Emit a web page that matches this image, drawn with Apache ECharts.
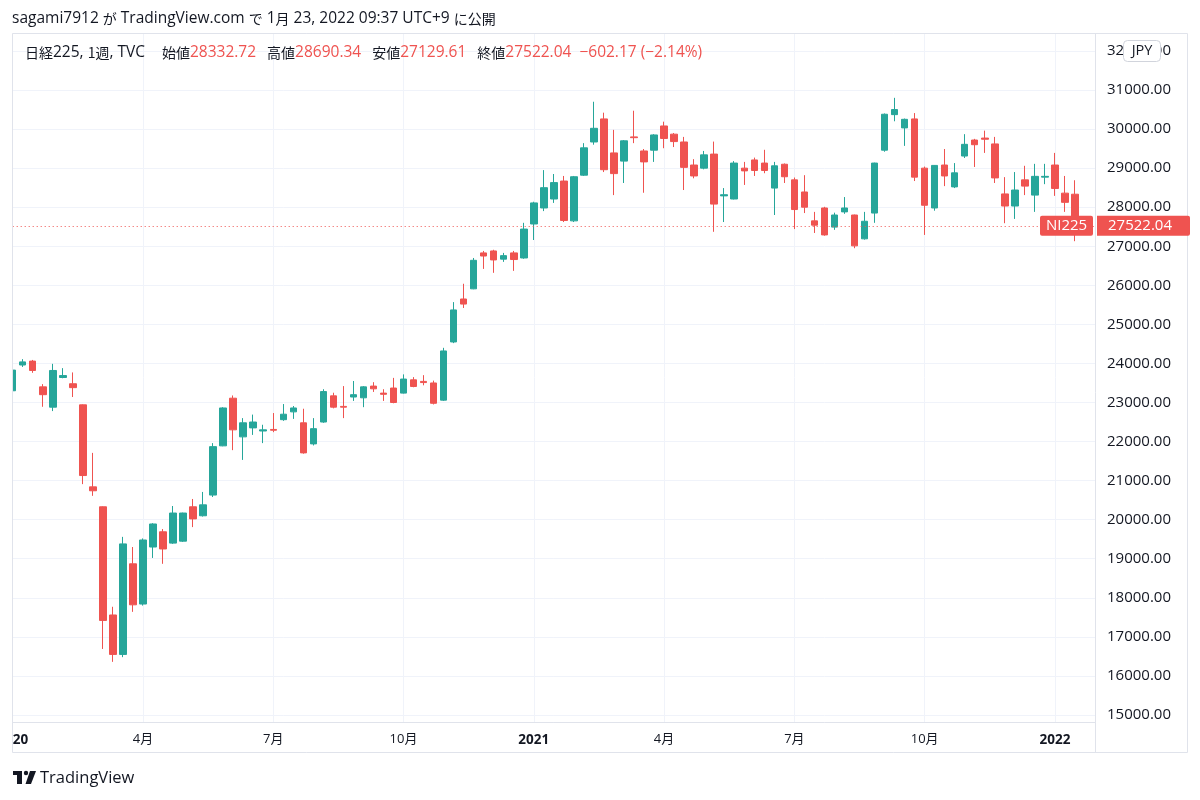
<!DOCTYPE html>
<html><head><meta charset="utf-8">
<script src="https://cdn.jsdelivr.net/npm/echarts@6/dist/echarts.min.js"></script>
<style>html,body{margin:0;padding:0;background:#fff}#c{width:1200px;height:800px}</style>
</head><body><div id="c"></div>
<script>
const dates = [
'2020-01-06','2020-01-13','2020-01-20','2020-01-27','2020-02-03','2020-02-10','2020-02-17','2020-02-24',
'2020-03-02','2020-03-09','2020-03-16','2020-03-23','2020-03-30','2020-04-06','2020-04-13','2020-04-20','2020-04-27',
'2020-05-04','2020-05-11','2020-05-18','2020-05-25','2020-06-01','2020-06-08','2020-06-15','2020-06-22','2020-06-29',
'2020-07-06','2020-07-13','2020-07-20','2020-07-27','2020-08-03','2020-08-10','2020-08-17','2020-08-24','2020-08-31',
'2020-09-07','2020-09-14','2020-09-21','2020-09-28','2020-10-05','2020-10-12','2020-10-19','2020-10-26',
'2020-11-02','2020-11-09','2020-11-16','2020-11-23','2020-11-30','2020-12-07','2020-12-14','2020-12-21','2020-12-28',
'2021-01-04','2021-01-11','2021-01-18','2021-01-25','2021-02-01','2021-02-08','2021-02-15','2021-02-22',
'2021-03-01','2021-03-08','2021-03-15','2021-03-22','2021-03-29','2021-04-05','2021-04-12','2021-04-19','2021-04-26',
'2021-05-03','2021-05-10','2021-05-17','2021-05-24','2021-05-31','2021-06-07','2021-06-14','2021-06-21','2021-06-28',
'2021-07-05','2021-07-12','2021-07-19','2021-07-26','2021-08-02','2021-08-09','2021-08-16','2021-08-23','2021-08-30',
'2021-09-06','2021-09-13','2021-09-20','2021-09-27','2021-10-04','2021-10-11','2021-10-18','2021-10-25',
'2021-11-01','2021-11-08','2021-11-15','2021-11-22','2021-11-29','2021-12-06','2021-12-13','2021-12-20','2021-12-27',
'2022-01-03','2022-01-10','2022-01-17'];

const opens = [
23300,23960,24060,23400,22880,23640,23480,22940,20840,20330,17560,16550,18870,17840,19300,19690,19400,
19450,20330,20100,20630,21890,23110,22120,22350,22270,22310,22560,22760,22480,21940,22500,23170,22900,
23140,23120,23420,23240,23370,23240,23580,23540,23500,23060,24550,25650,25910,26830,26880,26670,26830,26700,
27570,27980,28210,28670,27650,28820,29670,30260,29390,29180,29800,29440,29460,30080,29870,29670,29080,
29000,29360,28290,28210,29000,29210,29130,28490,29100,28700,28390,27650,27980,27490,27880,27800,27190,27850,
29460,30370,30030,30260,29000,27980,29080,28520,29310,29720,29770,29620,28340,28030,28700,28310,28770,
29080,28360,28332.72];
const highs = [
23880,24110,24090,23470,23990,23880,23770,22950,21710,20340,17770,19560,19300,19520,19910,19760,20350,
20180,20530,20710,21960,22880,23180,22600,22690,22430,22730,22960,22910,22840,22600,23340,23250,23420,
23550,23420,23520,23340,23630,23720,23650,23700,23560,24400,25570,26040,26700,26880,26910,26830,26880,27600,
28140,28950,28850,28800,28800,29640,30700,30420,29980,29720,30470,29490,29870,30190,29900,29800,29230,
29440,29680,28490,29180,29160,29270,29470,29160,29120,28760,28820,27880,28010,27860,28260,27810,27880,29140,
30400,30800,30270,30410,29040,29080,29490,29130,29870,29750,29960,29800,28770,28900,29060,29110,29110,
29390,28800,28690.34];
const lows = [
22990,23910,23760,22890,22780,23620,23140,20910,20610,16690,16360,16480,17640,17800,19020,18870,19380,
19430,19810,20080,20580,21880,21780,21530,22170,21960,22240,22530,22580,21690,21900,22480,22850,22600,
23040,22880,23270,23040,22980,23230,23390,23440,22950,23040,24520,25420,25900,26420,26320,26600,26370,26680,
27160,27900,28110,27620,27620,28800,29600,28900,28310,28620,29640,28370,29160,29510,29540,28440,28740,
28970,27370,27620,28200,28570,28800,28870,27800,28620,27440,27850,27340,27270,27420,27830,26950,27170,27600,
29420,30200,29570,28670,27290,27910,28540,28490,29260,29030,29390,28620,27590,27700,28310,27880,28590,
28290,27880,27129.61];
const closes = [
23830,24040,23820,23200,23820,23690,23380,21130,20740,17420,16550,19380,17820,19480,19890,19250,20170,
20170,20020,20380,21870,22860,22300,22480,22500,22300,22290,22700,22860,21710,22330,23280,22880,22880,
23200,23400,23350,23210,23000,23600,23410,23510,22980,24320,25370,25520,26640,26750,26650,26760,26660,27440,
28110,28500,28630,27660,28780,29520,30020,28960,28860,29700,29780,29160,29850,29760,29680,29020,28800,
29340,28080,28320,29130,28930,28940,28940,29060,28780,27940,28000,27540,27290,27800,27980,27010,27640,29130,
30380,30500,30250,28770,28050,29070,28800,28880,29610,29600,29740,28750,28030,28440,28540,28790,28790,
28480,28124.21,27522.04];

const tickLabels = ['2020','4月','7月','10月','2021','4月','7月','10月','2022'];

const UP = '#26a69a', DOWN = '#ef5350', TXT = '#131722', GRID = '#f0f3fa', BORDER = '#e0e3eb';
const FONT = "'Open Sans', 'Noto Sans CJK JP', sans-serif";
const JFONT = "'Noto Sans CJK JP', sans-serif";

const n = dates.length;
const cats = dates.concat(['', '']);
const labelAt = {};
let k = 0;
dates.forEach((d, i) => {
  const m = +d.slice(5, 7);
  const pm = i ? +dates[i - 1].slice(5, 7) : null;
  if (m !== pm && (m - 1) % 3 === 0) { labelAt[i] = tickLabels[k++]; }
});
const candles = dates.map((d, i) => [opens[i], closes[i], lows[i], highs[i]]);
const lastO = opens[n - 1], lastH = highs[n - 1], lastL = lows[n - 1], lastC = closes[n - 1];
const chg = lastC - closes[n - 2];
const pct = chg / closes[n - 2] * 100;
const fmtSigned = v => (v < 0 ? '\u2212' : '+') + Math.abs(v).toFixed(2);

const chart = echarts.init(document.getElementById('c'), null, {renderer: 'canvas'});
const option = {
  animation: false,
  backgroundColor: '#ffffff',
  textStyle: {fontFamily: FONT},
  grid: {left: 12.7, right: 105, top: 33, bottom: 78, containLabel: false, outerBoundsMode: 'none'},
  xAxis: {
    type: 'category', data: cats, boundaryGap: false,
    axisLine: {show: true, lineStyle: {color: BORDER}},
    axisTick: {show: false},
    axisLabel: {
      interval: 0, margin: 11, color: TXT, fontSize: 13, fontFamily: FONT,
      hideOverlap: false,
      formatter: (v, i) => {
        const l = labelAt[i];
        if (l === undefined) return '';
        return /^\d{4}$/.test(l) ? '{y|' + l + '}' : '{m|' + l + '}';
      },
      rich: {
        y: {fontWeight: 'bold', fontSize: 13.5, color: TXT, fontFamily: FONT},
        m: {fontSize: 13, color: TXT, fontFamily: FONT}
      }
    },
    splitLine: {show: true, interval: (i) => labelAt[i] !== undefined, lineStyle: {color: GRID, width: 1}}
  },
  yAxis: {
    type: 'value', position: 'right', min: 14820, max: 32460,
    minInterval: 1000, maxInterval: 1000,
    axisLine: {show: false}, axisTick: {show: false},
    axisLabel: {margin: 12, color: TXT, fontSize: 15, fontFamily: FONT,
      formatter: v => (Math.abs(v % 1000) < 1e-6 ? v.toFixed(2) : '')},
    splitLine: {show: true, lineStyle: {color: GRID, width: 1}}
  },
  series: [{
    type: 'candlestick', data: candles, barWidth: 7,
    itemStyle: {color: UP, color0: DOWN, borderColor: UP, borderColor0: DOWN, borderWidth: 1},
    markLine: {
      symbol: 'none', silent: true, label: {show: false},
      lineStyle: {type: [1, 3], color: DOWN, width: 1},
      data: [{yAxis: lastC}]
    }
  }]
};
chart.setOption(option);

const yPx = chart.convertToPixel({yAxisIndex: 0}, lastC);
const L1 = '15.5px ' + FONT, J1 = '14px ' + JFONT;
const H2 = '15.5px ' + FONT, H2J = '14px ' + JFONT;
const graphics = [
  // header line 1
  {type: 'text', x: 12, y: 19, z: 200,
   style: {
     text: '{b|sagami7912 }{j|が}{b| TradingView.com }{j|で}{b| 1}{j|月}{b| 23, 2022 09:37 UTC+9 }{j|に公開}',
     font: L1, verticalAlign: 'middle',
     rich: {b: {fill: TXT, font: L1}, j: {fill: TXT, font: J1}}
   }},
  // header line 2
  {type: 'text', x: 25, y: 53, z: 200,
   style: {
     text: '{j|日経}{b|225, }{j|1週}{b|, TVC}{u| }{j|始値}{r|' + lastO.toFixed(2) + '}{s| }{j|高値}{r|' + lastH.toFixed(2) +
           '}{s| }{j|安値}{r|' + lastL.toFixed(2) + '}{s| }{j|終値}{r|' + lastC.toFixed(2) + '}{t| }{r|' +
           fmtSigned(chg) + ' (' + fmtSigned(pct) + '%)}',
     font: H2, verticalAlign: 'middle',
     rich: {b: {fill: TXT, font: H2}, j: {fill: TXT, font: H2J}, r: {fill: DOWN, font: H2},
            u: {fill: TXT, font: H2, width: 17},
            s: {fill: TXT, font: H2, width: 11}, t: {fill: TXT, font: H2, width: 8}}
   }},
  // white mask at left edge (clip first half candle)
  {type: 'rect', z: 150, shape: {x: 0, y: 30, width: 12.5, height: 735}, style: {fill: '#ffffff'}},
  // frame
  {type: 'rect', z: 160, shape: {x: 12.5, y: 33.5, width: 1175, height: 719}, style: {fill: null, stroke: BORDER, lineWidth: 1}},
  {type: 'line', z: 160, shape: {x1: 1095.5, y1: 33, x2: 1095.5, y2: 752}, style: {stroke: BORDER, lineWidth: 1}},
  // JPY box
  {type: 'rect', z: 170, shape: {x: 1123.5, y: 40.5, width: 37, height: 21, r: 4}, style: {fill: '#ffffff', stroke: '#d1d4dc', lineWidth: 1}},
  {type: 'text', z: 171, x: 1142, y: 51, style: {text: 'JPY', fill: TXT, font: '14.5px ' + FONT, align: 'center', verticalAlign: 'middle'}},
  // NI225 tag
  {type: 'rect', z: 170, shape: {x: 1040, y: yPx - 10, width: 53, height: 20, r: 2}, style: {fill: DOWN}},
  {type: 'text', z: 171, x: 1066.5, y: yPx, style: {text: 'NI225', fill: '#ffffff', font: '15px ' + FONT, align: 'center', verticalAlign: 'middle'}},
  // price tag
  {type: 'rect', z: 170, shape: {x: 1097, y: yPx - 10, width: 93, height: 20, r: [0, 2, 2, 0]}, style: {fill: DOWN}},
  {type: 'text', z: 171, x: 1108, y: yPx, style: {text: lastC.toFixed(2), fill: '#ffffff', font: '15px ' + FONT, align: 'left', verticalAlign: 'middle'}},
  // TradingView logo
  {type: 'rect', z: 170, shape: {x: 13, y: 771, width: 9, height: 4}, style: {fill: TXT}},
  {type: 'rect', z: 170, shape: {x: 17, y: 771, width: 5, height: 13}, style: {fill: TXT}},
  {type: 'circle', z: 170, shape: {cx: 26, cy: 773, r: 2.2}, style: {fill: TXT}},
  {type: 'polygon', z: 170, shape: {points: [[30, 771], [36, 771], [31, 784], [25.5, 784]]}, style: {fill: TXT}},
  {type: 'text', z: 170, x: 40, y: 778, style: {text: 'TradingView', fill: TXT, font: '16.5px ' + FONT, verticalAlign: 'middle'}}
];
chart.setOption({graphic: graphics});
</script>
</body></html>
